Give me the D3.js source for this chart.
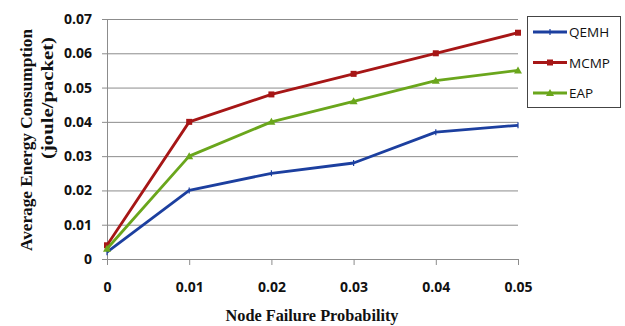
<!DOCTYPE html>
<html lang="en">
<head>
<meta charset="UTF-8" />
<title>Energy Consumption</title>
<script src="https://cdn.jsdelivr.net/npm/d3@7"></script>
<style>
  body { margin: 0; background: #fff; }
  .grid line { stroke: #8c8c8c; stroke-width: 1px; }
  .tick text { font-family: "Open Sans", "Liberation Sans", sans-serif; font-weight: bold; font-size: 14px; fill: #111; }
  .axis path, .axis line { stroke: #8c8c8c; }
  .series { fill: none; stroke-width: 2.8px; stroke-linejoin: round; }
  .title { font-family: "Liberation Serif", "Times New Roman", serif; font-weight: bold; font-size: 17px; fill: #111; }
  .legend text { font-family: "Open Sans", "Liberation Sans", sans-serif; font-size: 13.5px; fill: #111; }
</style>
</head>
<body>
<script>
var xValues = [0, 0.01, 0.02, 0.03, 0.04, 0.05];
var xTicks = ["0", "0.01", "0.02", "0.03", "0.04", "0.05"];
var yTicks = [0, 0.01, 0.02, 0.03, 0.04, 0.05, 0.06, 0.07];
var seriesNames = ["QEMH", "MCMP", "EAP"];
var qemh = [0.002, 0.020, 0.025, 0.028, 0.037, 0.039];
var mcmp = [0.004, 0.040, 0.048, 0.054, 0.060, 0.066];
var eap = [0.003, 0.030, 0.040, 0.046, 0.052, 0.055];
var colors = ["#1c3f9f", "#a61616", "#6aa61c"];

var W = 625, H = 326;
var m = { left: 107, right: 518, top: 19, bottom: 259 };

var svg = d3.select("body").append("svg")
  .attr("width", W).attr("height", H);

var x = d3.scaleLinear().domain([0, 0.05]).range([m.left, m.right]);
var y = d3.scaleLinear().domain([0, 0.07]).range([m.bottom, m.top]);

// horizontal gridlines + y labels
var yAxis = d3.axisLeft(y).tickValues(yTicks)
  .tickSize(-(m.right - m.left)).tickPadding(15)
  .tickFormat(function(d) { return d === 0 ? "0" : d3.format(".2f")(d); });
var gy = svg.append("g").attr("class", "grid axis")
  .attr("transform", "translate(" + m.left + ",0)")
  .call(yAxis);
gy.select(".domain").remove();
gy.selectAll(".tick line").attr("x1", -5);
svg.append("line").attr("stroke", "#8c8c8c")
  .attr("x1", m.left + 0.5).attr("x2", m.left + 0.5).attr("y1", m.top).attr("y2", m.bottom);

// x axis
var xAxis = d3.axisBottom(x).tickValues(xValues).tickSize(6).tickPadding(17)
  .tickFormat(function(d, i) { return xTicks[i]; });
var gx = svg.append("g").attr("class", "axis")
  .attr("transform", "translate(0," + m.bottom + ")")
  .call(xAxis);
gx.select(".domain").attr("d", "M" + m.left + ",0.5H" + m.right);

// lines
var line = d3.line()
  .x(function(d, i) { return x(xValues[i]); })
  .y(function(d) { return y(d); });
var all = [qemh, mcmp, eap];

function marker(g, kind, cx, cy, c) {
  if (kind === 0) {
    g.append("line").attr("x1", cx).attr("x2", cx).attr("y1", cy - 3).attr("y2", cy + 3)
      .attr("stroke", c).attr("stroke-width", 1.2);
  } else if (kind === 1) {
    g.append("rect").attr("x", cx - 3).attr("y", cy - 3).attr("width", 6).attr("height", 6).attr("fill", c);
  } else {
    g.append("path").attr("d", "M" + cx + "," + (cy - 4) + "L" + (cx + 4) + "," + (cy + 3) + "L" + (cx - 4) + "," + (cy + 3) + "Z")
      .attr("fill", c);
  }
}

all.forEach(function(s, k) {
  svg.append("path").datum(s).attr("class", "series")
    .attr("stroke", colors[k]).attr("d", line);
  var g = svg.append("g");
  s.forEach(function(v, i) { marker(g, k, x(xValues[i]), y(v), colors[k]); });
});

// axis titles
svg.append("text").attr("class", "title").attr("text-anchor", "middle")
  .attr("x", 312).attr("y", 321).style("font-size", "16px")
  .attr("textLength", 173).attr("lengthAdjust", "spacingAndGlyphs")
  .text("Node Failure Probability");
svg.append("text").attr("class", "title").attr("text-anchor", "middle")
  .attr("transform", "translate(32,140)rotate(-90)")
  .attr("textLength", 222).attr("lengthAdjust", "spacingAndGlyphs")
  .text("Average Energy Consumption");
svg.append("text").attr("class", "title").attr("text-anchor", "middle")
  .attr("transform", "translate(53,98)rotate(-90)")
  .attr("textLength", 122).attr("lengthAdjust", "spacingAndGlyphs")
  .text("(joule/packet)");

// legend
var lg = svg.append("g").attr("class", "legend");
lg.append("rect").attr("x", 527.5).attr("y", 16.5).attr("width", 93).attr("height", 91)
  .attr("fill", "#fff").attr("stroke", "#444");
seriesNames.forEach(function(n, k) {
  var ly = 32 + k * 30.5;
  lg.append("line").attr("x1", 533).attr("x2", 567).attr("y1", ly).attr("y2", ly)
    .attr("stroke", colors[k]).attr("stroke-width", 2.8);
  marker(lg, k, 550, ly, colors[k]);
  lg.append("text").attr("x", 569).attr("y", ly + 5).text(n);
});
</script>
</body>
</html>
